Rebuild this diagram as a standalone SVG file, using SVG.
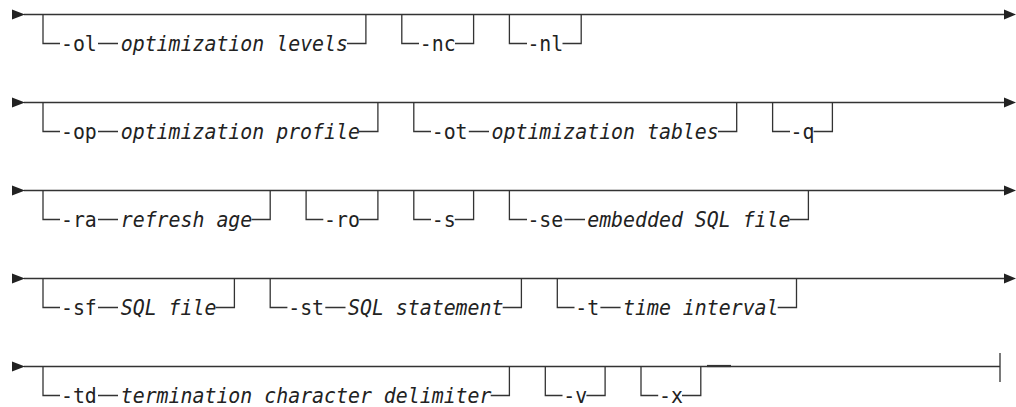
<svg xmlns="http://www.w3.org/2000/svg" width="1016" height="407" viewBox="0 0 1016 407">
<style>
.ln{fill:none;stroke:#333;stroke-width:1.3}
.ah{fill:#222}
text{font-family:"DejaVu Sans Mono","Liberation Mono",monospace;font-size:21px;fill:#222}
.v{font-style:italic}
</style>
<rect width="1016" height="407" fill="#fff"/>
<g id="connectors">
<path class="ln" d="M24 14.5H1005M24 102.5H1005M24 190.5H1005M24 278.5H1005M24 366.5H1000M1000 353V382"/>
<path class="ln" d="M707 366H731" style="stroke-width:2.2"/>
<polygon class="ah" points="12,9.5 12,19.5 25,14.5"/>
<polygon class="ah" points="12,97.5 12,107.5 25,102.5"/>
<polygon class="ah" points="12,185.5 12,195.5 25,190.5"/>
<polygon class="ah" points="12,273.5 12,283.5 25,278.5"/>
<polygon class="ah" points="12,361.5 12,371.5 25,366.5"/>
<polygon class="ah" points="1004,9.5 1004,19.5 1016,14.5"/>
<polygon class="ah" points="1004,97.5 1004,107.5 1016,102.5"/>
<polygon class="ah" points="1004,185.5 1004,195.5 1016,190.5"/>
<polygon class="ah" points="1004,273.5 1004,283.5 1016,278.5"/>
</g>
<g id="n-ol">
<path class="ln" d="M43 14.5V43.5H60M98 43.5H118M347 43.5H365.9V14.5"/>
<text x="60.94" y="50.5" textLength="35.88" lengthAdjust="spacingAndGlyphs">-ol</text>
<text class="v" x="120.74" y="50.5" textLength="227.24" lengthAdjust="spacingAndGlyphs">optimization levels</text>
</g>
<g id="n-nc">
<path class="ln" d="M401.8 14.5V43.5H419M455 43.5H473.6V14.5"/>
<text x="419.74" y="50.5" textLength="35.88" lengthAdjust="spacingAndGlyphs">-nc</text>
</g>
<g id="n-nl">
<path class="ln" d="M509.4 14.5V43.5H527M562.5 43.5H581.2V14.5"/>
<text x="527.38" y="50.5" textLength="35.88" lengthAdjust="spacingAndGlyphs">-nl</text>
</g>
<g id="n-op">
<path class="ln" d="M43 102.5V131.5H60M98 131.5H118M359 131.5H377.9V102.5"/>
<text x="60.94" y="138.5" textLength="35.88" lengthAdjust="spacingAndGlyphs">-op</text>
<text class="v" x="120.74" y="138.5" textLength="239.2" lengthAdjust="spacingAndGlyphs">optimization profile</text>
</g>
<g id="n-ot">
<path class="ln" d="M413.8 102.5V131.5H431M468.8 131.5H489M718 131.5H736.7V102.5"/>
<text x="431.7" y="138.5" textLength="35.88" lengthAdjust="spacingAndGlyphs">-ot</text>
<text class="v" x="491.5" y="138.5" textLength="227.24" lengthAdjust="spacingAndGlyphs">optimization tables</text>
</g>
<g id="n-q">
<path class="ln" d="M772.6 102.5V131.5H790M813.6 131.5H832.4V102.5"/>
<text x="790.5" y="138.5" textLength="23.92" lengthAdjust="spacingAndGlyphs">-q</text>
</g>
<g id="n-ra">
<path class="ln" d="M43 190.5V219.5H60M98 219.5H118M251.5 219.5H270.2V190.5"/>
<text x="60.94" y="226.5" textLength="35.88" lengthAdjust="spacingAndGlyphs">-ra</text>
<text class="v" x="120.74" y="226.5" textLength="131.56" lengthAdjust="spacingAndGlyphs">refresh age</text>
</g>
<g id="n-ro">
<path class="ln" d="M306.1 190.5V219.5H323.3M359.2 219.5H377.9V190.5"/>
<text x="324.06" y="226.5" textLength="35.88" lengthAdjust="spacingAndGlyphs">-ro</text>
</g>
<g id="n-s">
<path class="ln" d="M413.8 190.5V219.5H431M454.8 219.5H473.6V190.5"/>
<text x="431.7" y="226.5" textLength="23.92" lengthAdjust="spacingAndGlyphs">-s</text>
</g>
<g id="n-se">
<path class="ln" d="M509.4 190.5V219.5H527M564.5 219.5H585M789.7 219.5H808.4V190.5"/>
<text x="527.38" y="226.5" textLength="35.88" lengthAdjust="spacingAndGlyphs">-se</text>
<text class="v" x="587.18" y="226.5" textLength="203.32" lengthAdjust="spacingAndGlyphs">embedded SQL file</text>
</g>
<g id="n-sf">
<path class="ln" d="M43 278.5V307.5H60M98 307.5H118M215.6 307.5H234.4V278.5"/>
<text x="60.94" y="314.5" textLength="35.88" lengthAdjust="spacingAndGlyphs">-sf</text>
<text class="v" x="120.74" y="314.5" textLength="95.68" lengthAdjust="spacingAndGlyphs">SQL file</text>
</g>
<g id="n-st">
<path class="ln" d="M270.2 278.5V307.5H287.4M325.3 307.5H345.5M502.7 307.5H521.4V278.5"/>
<text x="288.18" y="314.5" textLength="35.88" lengthAdjust="spacingAndGlyphs">-st</text>
<text class="v" x="347.98" y="314.5" textLength="155.48" lengthAdjust="spacingAndGlyphs">SQL statement</text>
</g>
<g id="n-t">
<path class="ln" d="M557.3 278.5V307.5H574.5M600.4 307.5H620.6M777.7 307.5H796.5V278.5"/>
<text x="575.22" y="314.5" textLength="23.92" lengthAdjust="spacingAndGlyphs">-t</text>
<text class="v" x="623.06" y="314.5" textLength="155.48" lengthAdjust="spacingAndGlyphs">time interval</text>
</g>
<g id="n-td">
<path class="ln" d="M43 366.5V395.5H60M98 395.5H118M490.7 395.5H509.4V366.5"/>
<text x="60.94" y="402.5" textLength="35.88" lengthAdjust="spacingAndGlyphs">-td</text>
<text class="v" x="120.74" y="402.5" textLength="370.76" lengthAdjust="spacingAndGlyphs">termination character delimiter</text>
</g>
<g id="n-v">
<path class="ln" d="M545.3 366.5V395.5H562.5M586.4 395.5H605.1V366.5"/>
<text x="563.26" y="402.5" textLength="23.92" lengthAdjust="spacingAndGlyphs">-v</text>
</g>
<g id="n-x">
<path class="ln" d="M641 366.5V395.5H658.2M682 395.5H700.8V366.5"/>
<text x="658.94" y="402.5" textLength="23.92" lengthAdjust="spacingAndGlyphs">-x</text>
</g>
</svg>
